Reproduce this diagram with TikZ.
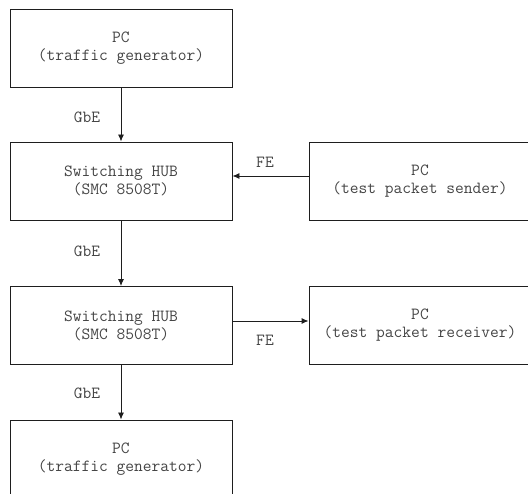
\documentclass[tikz,border=0pt]{standalone}
\usepackage{fontspec}
\usetikzlibrary{arrows.meta,positioning}
\definecolor{linec}{HTML}{1E1E1E}
\definecolor{textc}{HTML}{444444}
\newcommand{\boxfont}{\ttfamily\fontsize{17}{18}\selectfont}
\tikzset{
  unit/.style={draw=linec, line width=0.9pt, minimum width=222pt, minimum height=78pt,
    inner sep=0pt, align=center, text=textc, font=\boxfont},
  link/.style={draw=linec, line width=0.9pt, -{Latex[length=7pt,width=6pt]}},
  lbl/.style={text=textc, font=\boxfont, inner sep=0pt}
}
\begin{document}
\begin{tikzpicture}[x=1pt,y=-1pt]
  \useasboundingbox (0,0) rectangle (528,494);
  \clip (0,0) rectangle (528,494);
  % left column
  \node[unit] (gen1) at (121,48)    {PC\\(traffic generator)};
  \node[unit] (hub1) at (121,181)   {Switching HUB\\(SMC 8508T)};
  \node[unit] (hub2) at (121,325.5) {Switching HUB\\(SMC 8508T)};
  \node[unit] (gen2) at (121,459)   {PC\\(traffic generator)};
  % right column
  \node[unit] (send) at (420,181)   {PC\\(test packet sender)};
  \node[unit] (recv) at (420,325.5) {PC\\(test packet receiver)};
  % connections
  \draw[link] (gen1) -- (hub1);
  \draw[link] (hub1) -- (hub2);
  \draw[link] (hub2) -- (gen2);
  \draw[link] ([yshift=5pt]send.west) -- ([yshift=5pt]hub1.east);
  \draw[link] ([yshift=4.5pt]hub2.east) -- ([yshift=4.5pt]recv.west);
  % link speed labels
  \node[lbl] (l1) at (87,117) {GbE};
  \node[lbl] (l2) at (87,251) {GbE};
  \node[lbl] (l3) at (87,393) {GbE};
  \node[lbl] (l4) at (265,162) {FE};
  \node[lbl] (l5) at (265,340) {FE};
\end{tikzpicture}
\end{document}
